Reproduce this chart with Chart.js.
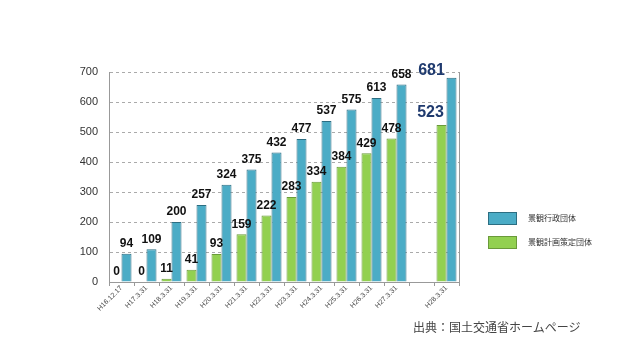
<!DOCTYPE html>
<html>
<head>
<meta charset="utf-8">
<title>景観行政団体数の推移</title>
<script src="https://cdn.jsdelivr.net/npm/chart.js"></script>
<style>
    body {
        margin: 0;
        background: #fff;
        font-family: "Liberation Sans", Arial, sans-serif;
    }
    #wrap {
        position: relative;
        width: 631px;
        height: 342px;
    }
    .legend {
        position: absolute;
        left: 488px;
        font-family: "Noto Sans CJK JP", sans-serif;
        font-size: 8px;
        color: #333;
    }
    .legend span.box {
        display: inline-block;
        width: 27px;
        height: 11px;
        vertical-align: middle;
        margin-right: 11px;
    }
    .source {
        position: absolute;
        left: 413px;
        top: 318px;
        font-family: "Noto Sans CJK JP", sans-serif;
        font-size: 12px;
        color: #444;
    }
</style>
</head>
<body>
<div id="wrap">
    <canvas id="myChart" width="631" height="342"></canvas>
    <div class="legend" style="top:212px"><span class="box" style="background:#4bacc6;border:1px solid #2c6e82"></span>景観行政団体</div>
    <div class="legend" style="top:236px"><span class="box" style="background:#92d050;border:1px solid #6a9a3a"></span>景観計画策定団体</div>
    <div class="source">出典：国土交通省ホームページ</div>
</div>

<script>
// data
const labels = ['H16.12.17', 'H17.3.31', 'H18.3.31', 'H19.3.31', 'H20.3.31', 'H21.3.31',
    'H22.3.31', 'H23.3.31', 'H24.3.31', 'H25.3.31', 'H26.3.31', 'H27.3.31', '', 'H28.3.31'];
const planGroups = [0, 0, 11, 41, 93, 159, 222, 283, 334, 384, 429, 478, null, 523];
const adminGroups = [94, 109, 200, 257, 324, 375, 432, 477, 537, 575, 613, 658, null, 681];
const yTicks = [0, 100, 200, 300, 400, 500, 600, 700];

// draws the value over each bar, the last year is bigger and shifted left
const valueLabels = {
    id: 'valueLabels',
    afterDatasetsDraw(chart) {
        const ctx = chart.ctx;
        ctx.save();
        ctx.textAlign = 'center';
        ctx.textBaseline = 'bottom';
        chart.data.datasets.forEach((ds, di) => {
            const meta = chart.getDatasetMeta(di);
            meta.data.forEach((bar, i) => {
                const v = ds.data[i];
                if (v === null) return;
                if (i === ds.data.length - 1) {
                    ctx.font = 'bold 16px "Liberation Sans", Arial, sans-serif';
                    ctx.fillStyle = '#1f3a6e';
                    const dx = di === 1 ? -20 : -11;
                    const dy = di === 1 ? 1 : -5;
                    ctx.fillText(v, bar.x + dx, bar.y + dy);
                } else {
                    ctx.font = 'bold 12px "Liberation Sans", Arial, sans-serif';
                    ctx.fillStyle = '#111';
                    ctx.fillText(v, bar.x, bar.y - 4);
                }
            });
        });
        ctx.restore();
    }
};

const ctx = document.getElementById('myChart').getContext('2d');
new Chart(ctx, {
    type: 'bar',
    data: {
        labels: labels,
        datasets: [
            {
                label: '景観計画策定団体',
                data: planGroups,
                backgroundColor: '#92d050',
                borderColor: '#6a9a3a',
                borderWidth: 1,
                categoryPercentage: 0.8,
                barPercentage: 1.0
            },
            {
                label: '景観行政団体',
                data: adminGroups,
                backgroundColor: '#4bacc6',
                borderColor: '#2c6e82',
                borderWidth: 1,
                categoryPercentage: 0.8,
                barPercentage: 1.0
            }
        ]
    },
    options: {
        responsive: false,
        animation: false,
        layout: {
            padding: { left: 60, right: 172, top: 72, bottom: 8 }
        },
        plugins: {
            legend: { display: false },
            tooltip: { enabled: false }
        },
        scales: {
            x: {
                grid: {
                    drawOnChartArea: false,
                    offset: true,
                    tickLength: 4,
                    color: '#999'
                },
                border: { color: '#999' },
                ticks: {
                    minRotation: 45,
                    maxRotation: 45,
                    autoSkip: false,
                    padding: -2,
                    font: { size: 7, family: '"Liberation Sans", Arial, sans-serif' },
                    color: '#444'
                },
                afterFit(scale) { scale.height = 52; }
            },
            y: {
                min: 0,
                max: 700,
                afterBuildTicks(scale) { scale.ticks = yTicks.map(v => ({ value: v })); },
                grid: {
                    color: '#aaa',
                    drawTicks: false
                },
                border: { color: '#999', dash: [3, 3] },
                ticks: {
                    padding: 11,
                    font: { size: 11, family: '"Liberation Sans", Arial, sans-serif' },
                    color: '#333'
                },
                afterFit(scale) { scale.width = 49; }
            },
            y2: {
                position: 'right',
                min: 0,
                max: 700,
                grid: { drawOnChartArea: false, drawTicks: false },
                border: { color: '#999' },
                ticks: { display: false },
                afterFit(scale) { scale.width = 0; }
            }
        }
    },
    plugins: [valueLabels]
});
</script>
</body>
</html>
